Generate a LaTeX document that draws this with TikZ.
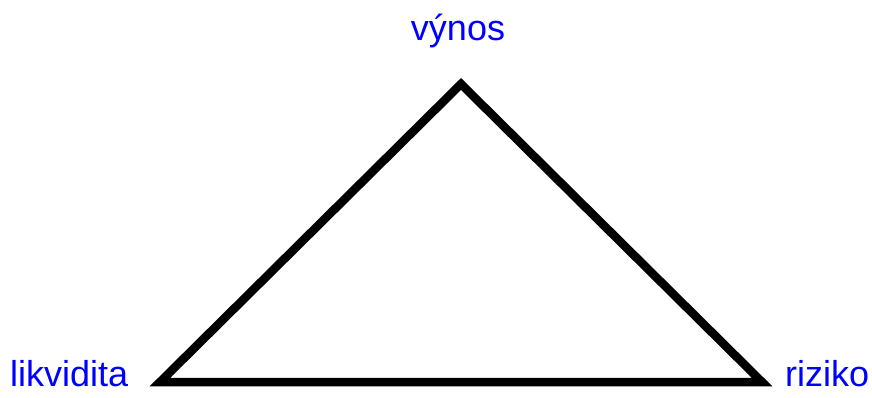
\documentclass[tikz,border=0pt]{standalone}
\usepackage{fontspec}
\setmainfont{Liberation Sans}
\begin{document}
\begin{tikzpicture}[x=1pt,y=-1pt,
  lbl/.style={text=blue,font=\fontsize{36}{42}\selectfont,inner sep=0pt},
  edge/.style={draw=black,line width=8.5pt,line join=miter}]
\useasboundingbox (0,0) rectangle (872,398);
\coordinate (T) at (461,84);
\coordinate (L) at (160,382);
\coordinate (R) at (762,382);
\draw[edge] (L) -- (T) -- (R) -- cycle;
\node[lbl,anchor=base] (vynos) at (458,41) {výnos};
\node[lbl,anchor=base west] (likv) at (10,386) {likvidita};
\node[lbl,anchor=base west] (riz) at (785,386) {riziko};
\end{tikzpicture}
\end{document}
